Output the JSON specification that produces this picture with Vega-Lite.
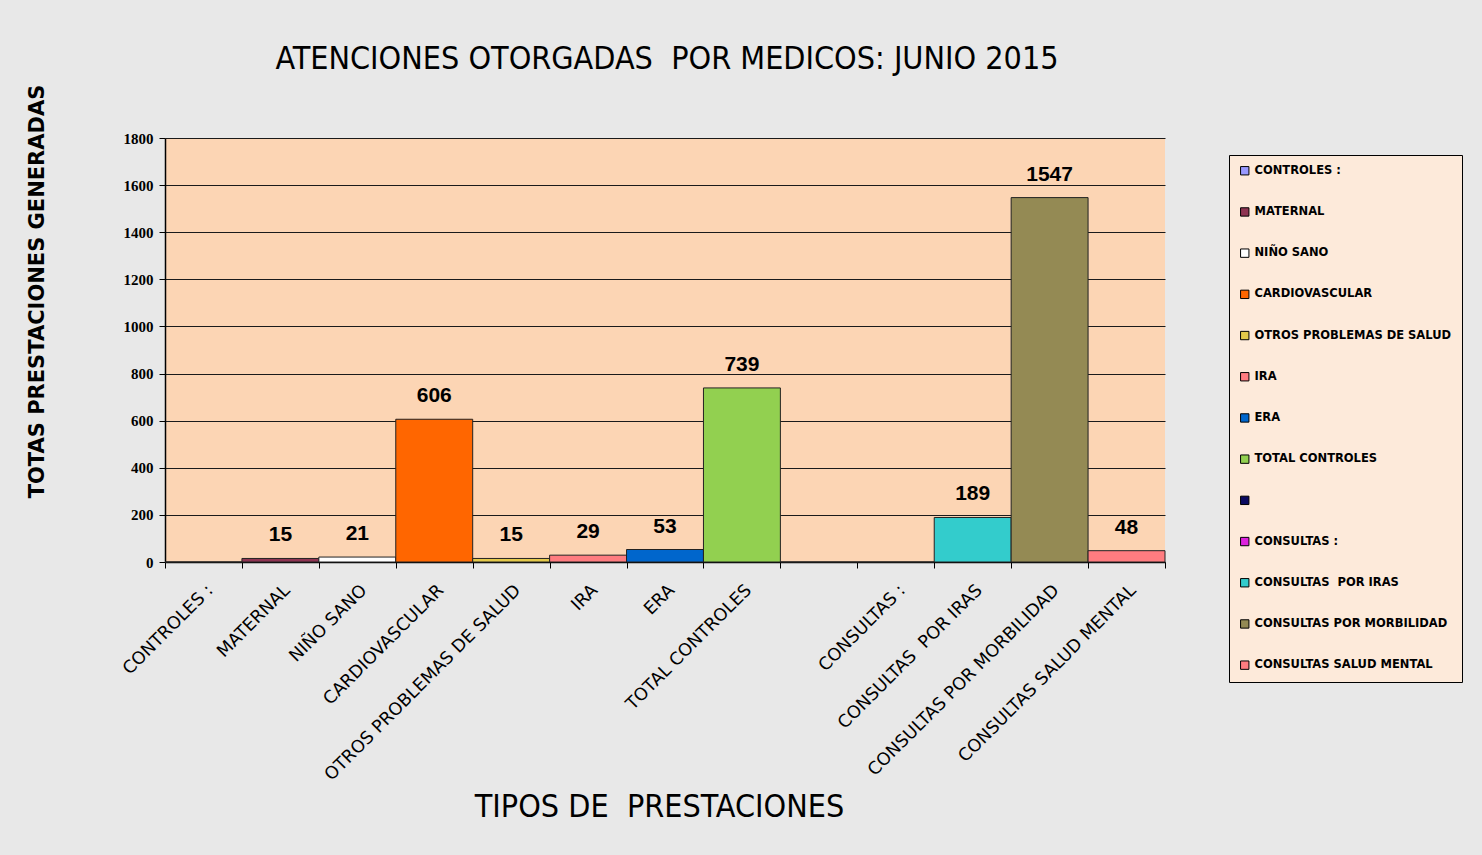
{
  "$schema": "https://vega.github.io/schema/vega-lite/v6.json",
  "autosize": {"type": "none"},
  "width": 1000,
  "height": 424,
  "padding": {"left": 165, "top": 138, "right": 317, "bottom": 293},
  "background": "#e8e8e8",
  "title": {
    "text": "ATENCIONES OTORGADAS \u00a0POR MEDICOS: JUNIO 2015",
    "font": "DejaVu Sans Condensed",
    "fontSize": 32,
    "fontWeight": "normal",
    "color": "#000000",
    "anchor": "middle",
    "dx": 2,
    "offset": 4
  },
  "data": {
    "values": [
      {"tipo": "CONTROLES :", "valor": 0},
      {"tipo": "MATERNAL", "valor": 15},
      {"tipo": "NIÑO SANO", "valor": 21},
      {"tipo": "CARDIOVASCULAR", "valor": 606},
      {"tipo": "OTROS PROBLEMAS DE SALUD", "valor": 15},
      {"tipo": "IRA", "valor": 29},
      {"tipo": "ERA", "valor": 53},
      {"tipo": "TOTAL CONTROLES", "valor": 739},
      {"tipo": " ", "valor": 0},
      {"tipo": "CONSULTAS :", "valor": 0},
      {"tipo": "CONSULTAS \u00a0POR IRAS", "valor": 189},
      {"tipo": "CONSULTAS POR MORBILIDAD", "valor": 1547},
      {"tipo": "CONSULTAS SALUD MENTAL", "valor": 48}
    ]
  },
  "config": {
    "view": {"fill": "#FCD5B4", "stroke": null},
    "axis": {"domainColor": "#000000", "tickColor": "#000000"}
  },
  "encoding": {
    "x": {
      "field": "tipo",
      "type": "nominal",
      "sort": null,
      "scale": {"paddingInner": 0, "paddingOuter": 0},
      "axis": {
        "title": "TIPOS DE \u00a0PRESTACIONES",
        "titleFont": "DejaVu Sans Condensed",
        "titleFontSize": 32,
        "titleFontWeight": "normal",
        "titleColor": "#000000",
        "titleY": 244,
        "titleX": 494,
        "titleBaseline": "middle",
        "labelAngle": -45,
        "labelAlign": "right",
        "labelBaseline": "top",
        "labelFont": "DejaVu Sans",
        "labelFontSize": 17.5,
        "labelColor": "#000000",
        "labelPadding": 13,
        "labelLimit": 400,
        "tickBand": "extent",
        "tickSize": 6,
        "domainWidth": 1.5
      }
    },
    "y": {
      "field": "valor",
      "type": "quantitative",
      "scale": {"domain": [0, 1800], "nice": false},
      "axis": {
        "title": "TOTAS PRESTACIONES  GENERADAS",
        "titleFont": "DejaVu Sans",
        "titleFontSize": 21,
        "titleFontWeight": "bold",
        "titleColor": "#000000",
        "titleX": -128,
        "titleY": 153,
        "titleAngle": -90,
        "titleAlign": "center",
        "titleBaseline": "middle",
        "values": [0, 200, 400, 600, 800, 1000, 1200, 1400, 1600, 1800],
        "format": "d",
        "labelFont": "Liberation Serif",
        "labelFontSize": 15,
        "labelFontWeight": "bold",
        "labelColor": "#000000",
        "labelPadding": 6,
        "tickSize": 6,
        "grid": true,
        "gridColor": "#1a1a1a",
        "gridWidth": 1,
        "domainWidth": 1.5
      }
    }
  },
  "layer": [
    {
      "mark": {"type": "bar", "stroke": "#222222", "strokeWidth": 1},
      "encoding": {
        "color": {
          "field": "tipo",
          "type": "nominal",
          "sort": null,
          "scale": {
            "domain": ["CONTROLES :", "MATERNAL", "NIÑO SANO", "CARDIOVASCULAR", "OTROS PROBLEMAS DE SALUD", "IRA", "ERA", "TOTAL CONTROLES", " ", "CONSULTAS :", "CONSULTAS \u00a0POR IRAS", "CONSULTAS POR MORBILIDAD", "CONSULTAS SALUD MENTAL"],
            "range": ["#9999FF", "#8E3452", "#FFFFFF", "#FF6600", "#E4C94A", "#FF7C80", "#0066CC", "#92D050", "#0A0A60", "#DD22DD", "#33CCCC", "#948A54", "#FF7C80"]
          },
          "legend": {
            "title": null,
            "orient": "none",
            "legendX": 1064,
            "legendY": 17,
            "padding": 10,
            "fillColor": "#FDEADA",
            "strokeColor": "#000000",
            "symbolType": "square",
            "symbolSize": 70,
            "symbolStrokeColor": "#000000",
            "symbolStrokeWidth": 1,
            "symbolOpacity": 1,
            "labelFont": "DejaVu Sans",
            "labelFontSize": 11.5,
            "labelFontWeight": "bold",
            "labelColor": "#000000",
            "labelOffset": 4,
            "labelLimit": 300,
            "rowPadding": 28.2
          }
        }
      }
    },
    {
      "transform": [{"filter": "datum.valor > 0"}],
      "mark": {
        "type": "text",
        "font": "Liberation Sans",
        "fontSize": 21,
        "fontWeight": "bold",
        "color": "#000000",
        "baseline": "bottom",
        "dy": -13
      },
      "encoding": {
        "text": {"field": "valor", "type": "quantitative"}
      }
    }
  ]
}
